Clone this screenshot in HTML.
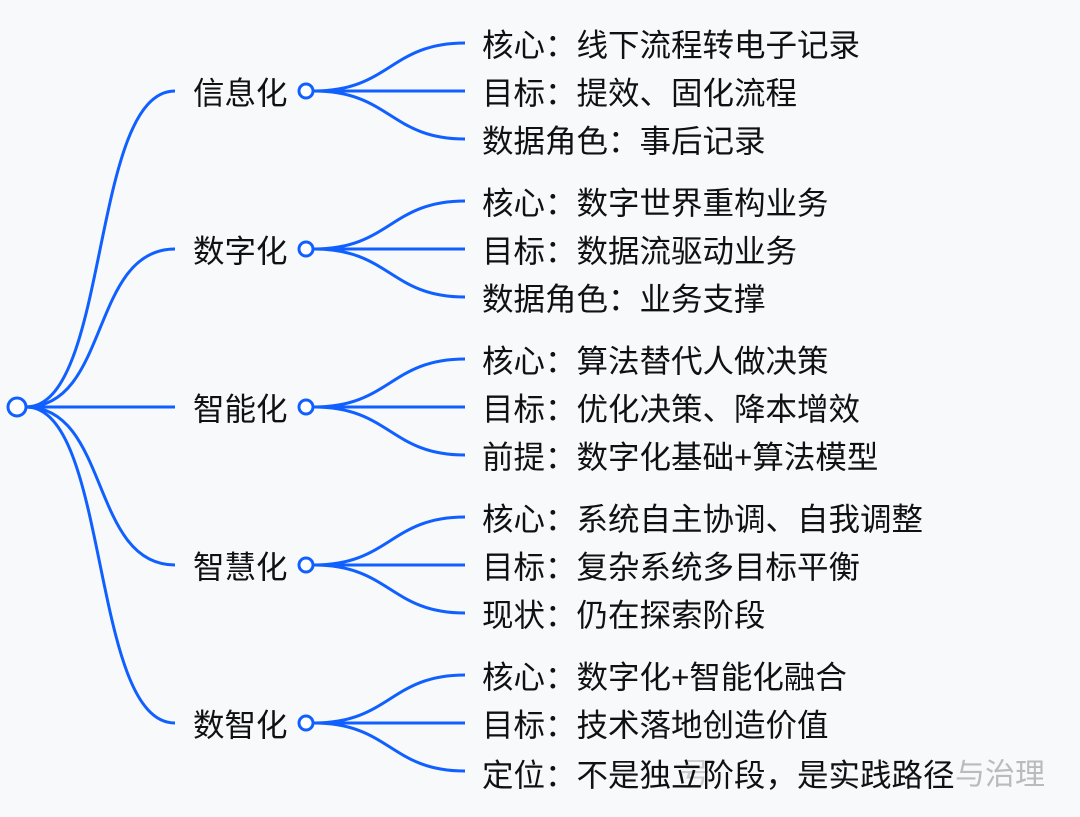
<!DOCTYPE html>
<html><head><meta charset="utf-8"><style>
html,body{margin:0;padding:0;background:#f8f9fb;}
svg{display:block}
text{font-family:"Liberation Sans","Noto Sans CJK SC",sans-serif;font-size:31.5px;fill:#111;dominant-baseline:central}
</style></head><body>
<svg width="1080" height="817" viewBox="0 0 1080 817" xmlns="http://www.w3.org/2000/svg">
<g fill="none" stroke="#1060ff" stroke-width="3">
<path d="M26 407 C110 407 90 91 175 91"/>
<path d="M26 407 C110 407 90 249 175 249"/>
<path d="M26 407 L175 407"/>
<path d="M26 407 C110 407 90 565 175 565"/>
<path d="M26 407 C110 407 90 723 175 723"/>
</g>
<g fill="none" stroke="#1060ff" stroke-width="3">
<path d="M314 91 C390 91 390 43 465 43"/><path d="M314 91 L465 91"/><path d="M314 91 C390 91 390 139 465 139"/>
<path d="M314 249 C390 249 390 201 465 201"/><path d="M314 249 L465 249"/><path d="M314 249 C390 249 390 297 465 297"/>
<path d="M314 407 C390 407 390 359 465 359"/><path d="M314 407 L465 407"/><path d="M314 407 C390 407 390 455 465 455"/>
<path d="M314 565 C390 565 390 517 465 517"/><path d="M314 565 L465 565"/><path d="M314 565 C390 565 390 613 465 613"/>
<path d="M314 723 C390 723 390 675 465 675"/><path d="M314 723 L465 723"/><path d="M314 723 C390 723 390 771 465 771"/>
</g>
<g fill="#fff" stroke="#1060ff" stroke-width="3">
<circle cx="17" cy="407" r="9"/>
<circle cx="306" cy="91" r="7"/><circle cx="306" cy="249" r="7"/><circle cx="306" cy="407" r="7"/><circle cx="306" cy="565" r="7"/><circle cx="306" cy="723" r="7"/>
</g>
<text x="193" y="93">信息化</text>
<text x="193" y="251">数字化</text>
<text x="193" y="409">智能化</text>
<text x="193" y="567">智慧化</text>
<text x="193" y="725">数智化</text>
<text x="955" y="775" style="fill:#bbb;font-size:30px">与治理</text>
<text x="680" y="775" style="fill:#ccc;font-size:30px">号</text>
<text x="482" y="45">核心：线下流程转电子记录</text>
<text x="482" y="93">目标：提效、固化流程</text>
<text x="482" y="141">数据角色：事后记录</text>
<text x="482" y="203">核心：数字世界重构业务</text>
<text x="482" y="251">目标：数据流驱动业务</text>
<text x="482" y="299">数据角色：业务支撑</text>
<text x="482" y="361">核心：算法替代人做决策</text>
<text x="482" y="409">目标：优化决策、降本增效</text>
<text x="482" y="457">前提：数字化基础+算法模型</text>
<text x="482" y="519">核心：系统自主协调、自我调整</text>
<text x="482" y="567">目标：复杂系统多目标平衡</text>
<text x="482" y="615">现状：仍在探索阶段</text>
<text x="482" y="677">核心：数字化+智能化融合</text>
<text x="482" y="725">目标：技术落地创造价值</text>
<text x="482" y="775">定位：不是独立阶段，是实践路径</text>
</svg>
</body></html>
